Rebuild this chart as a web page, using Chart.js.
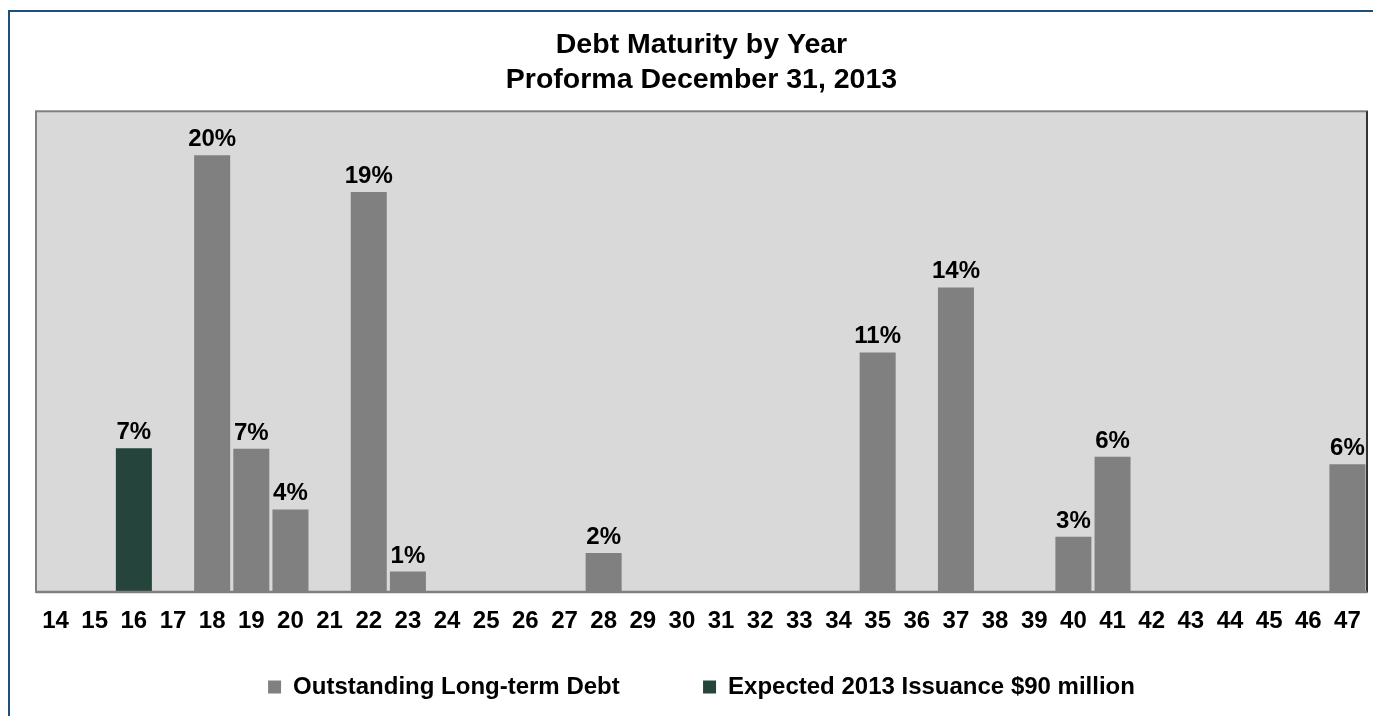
<!DOCTYPE html>
<html>
<head>
<meta charset="utf-8">
<script src="https://cdn.jsdelivr.net/npm/chart.js@4/dist/chart.umd.min.js"></script>
<style>
    html, body { margin: 0; padding: 0; background: #fff; overflow: hidden; }
    #wrap { position: relative; width: 1373px; height: 716px; }
    #frame {
        position: absolute; left: 8px; top: 10px; width: 1400px; height: 740px;
        border-top: 2px solid #1f4e79; border-left: 2px solid #1f4e79;
        pointer-events: none;
    }
</style>
</head>
<body>
<div id="wrap">
    <canvas id="debtChart"></canvas>
    <div id="frame"></div>
</div>
<script>
const years = ['14', '15', '16', '17', '18', '19', '20', '21', '22', '23', '24', '25', '26', '27', '28', '29', '30',
    '31', '32', '33', '34', '35', '36', '37', '38', '39', '40', '41', '42', '43', '44', '45', '46', '47'];

// share of total debt, %
const outstandingDebt = [null, null, null, null, 20.35, 6.67, 3.85, null, 18.64, 0.95, null, null, null, null, 1.82, null, null,
    null, null, null, null, 11.16, null, 14.19, null, null, 2.58, 6.3, null, null, null, null, null, 5.95];
const expectedIssuance = [null, null, 6.7, null, null, null, null, null, null, null, null, null, null, null, null, null, null,
    null, null, null, null, null, null, null, null, null, null, null, null, null, null, null, null, null];

const titleLines = ['Debt Maturity by Year', 'Proforma December 31, 2013'];
const seriesNames = ['Outstanding Long-term Debt', 'Expected 2013 Issuance $90 million'];

const FONT = '"Liberation Sans", Arial, sans-serif';
const LEGEND_GAP = ' '.repeat(11);

const plotFrame = {
    id: 'plotFrame',
    beforeDatasetsDraw(chart) {
        const { ctx, chartArea: a } = chart;
        ctx.save();
        ctx.fillStyle = '#d9d9d9';
        ctx.fillRect(a.left, a.top, a.right - a.left, a.bottom - a.top);
        ctx.strokeStyle = '#808080';
        ctx.lineWidth = 2;
        ctx.strokeRect(a.left, a.top, a.right - a.left, a.bottom - a.top);
        ctx.strokeStyle = '#1a1a1a';
        ctx.lineWidth = 1.5;
        ctx.beginPath();
        ctx.moveTo(a.right, a.top);
        ctx.lineTo(a.right, a.bottom);
        ctx.stroke();
        ctx.restore();
    },
    afterDatasetsDraw(chart) {
        const { ctx, chartArea: a } = chart;
        ctx.save();
        ctx.strokeStyle = '#808080';
        ctx.lineWidth = 2.5;
        ctx.beginPath();
        ctx.moveTo(a.left, a.bottom);
        ctx.lineTo(a.right, a.bottom);
        ctx.stroke();
        ctx.restore();
    }
};

const barLabels = {
    id: 'barLabels',
    afterDatasetsDraw(chart) {
        const { ctx } = chart;
        ctx.save();
        ctx.font = `bold 24px ${FONT}`;
        ctx.fillStyle = '#000';
        ctx.textAlign = 'center';
        ctx.textBaseline = 'alphabetic';
        chart.data.datasets.forEach((ds, di) => {
            chart.getDatasetMeta(di).data.forEach((bar, i) => {
                const v = ds.data[i];
                if (v == null) return;
                ctx.fillText(Math.round(v) + '%', bar.x, bar.y - 9);
            });
        });
        ctx.restore();
    }
};

new Chart(document.getElementById('debtChart'), {
    type: 'bar',
    data: {
        labels: years,
        datasets: [
            {
                label: seriesNames[0],
                data: outstandingDebt,
                backgroundColor: '#808080',
                borderWidth: 0,
                grouped: false,
                categoryPercentage: 1,
                barPercentage: 0.92
            },
            {
                label: seriesNames[1],
                data: expectedIssuance,
                backgroundColor: '#25443b',
                borderWidth: 0,
                grouped: false,
                categoryPercentage: 1,
                barPercentage: 0.92
            }
        ]
    },
    options: {
        responsive: true,
        maintainAspectRatio: false,
        animation: false,
        layout: {
            padding: { left: 36, right: 6, top: 0, bottom: 7 }
        },
        scales: {
            x: {
                grid: { display: false, drawTicks: false },
                border: { display: false },
                ticks: {
                    color: '#000',
                    padding: 4,
                    maxRotation: 0,
                    autoSkip: false,
                    font: { family: FONT, size: 24, weight: 'bold', lineHeight: 2.1 }
                },
                afterFit: (scale) => { scale.height = 73; }
            },
            y: {
                display: false,
                min: 0,
                max: 22.4
            }
        },
        plugins: {
            title: {
                display: true,
                text: titleLines,
                color: '#000',
                font: { family: FONT, size: 28.5, weight: 'bold', lineHeight: 1.24 },
                padding: { top: 27, bottom: 13.6 }
            },
            legend: {
                position: 'bottom',
                labels: {
                    color: '#000',
                    boxWidth: 13,
                    boxHeight: 13,
                    padding: 10,
                    font: { family: FONT, size: 24, weight: 'bold' },
                    generateLabels: (chart) => Chart.defaults.plugins.legend.labels.generateLabels(chart)
                        .map((item, i) => ({ ...item, text: i === 0 ? item.text + LEGEND_GAP : item.text }))
                }
            },
            tooltip: { enabled: false }
        }
    },
    plugins: [plotFrame, barLabels]
});
</script>
</body>
</html>
